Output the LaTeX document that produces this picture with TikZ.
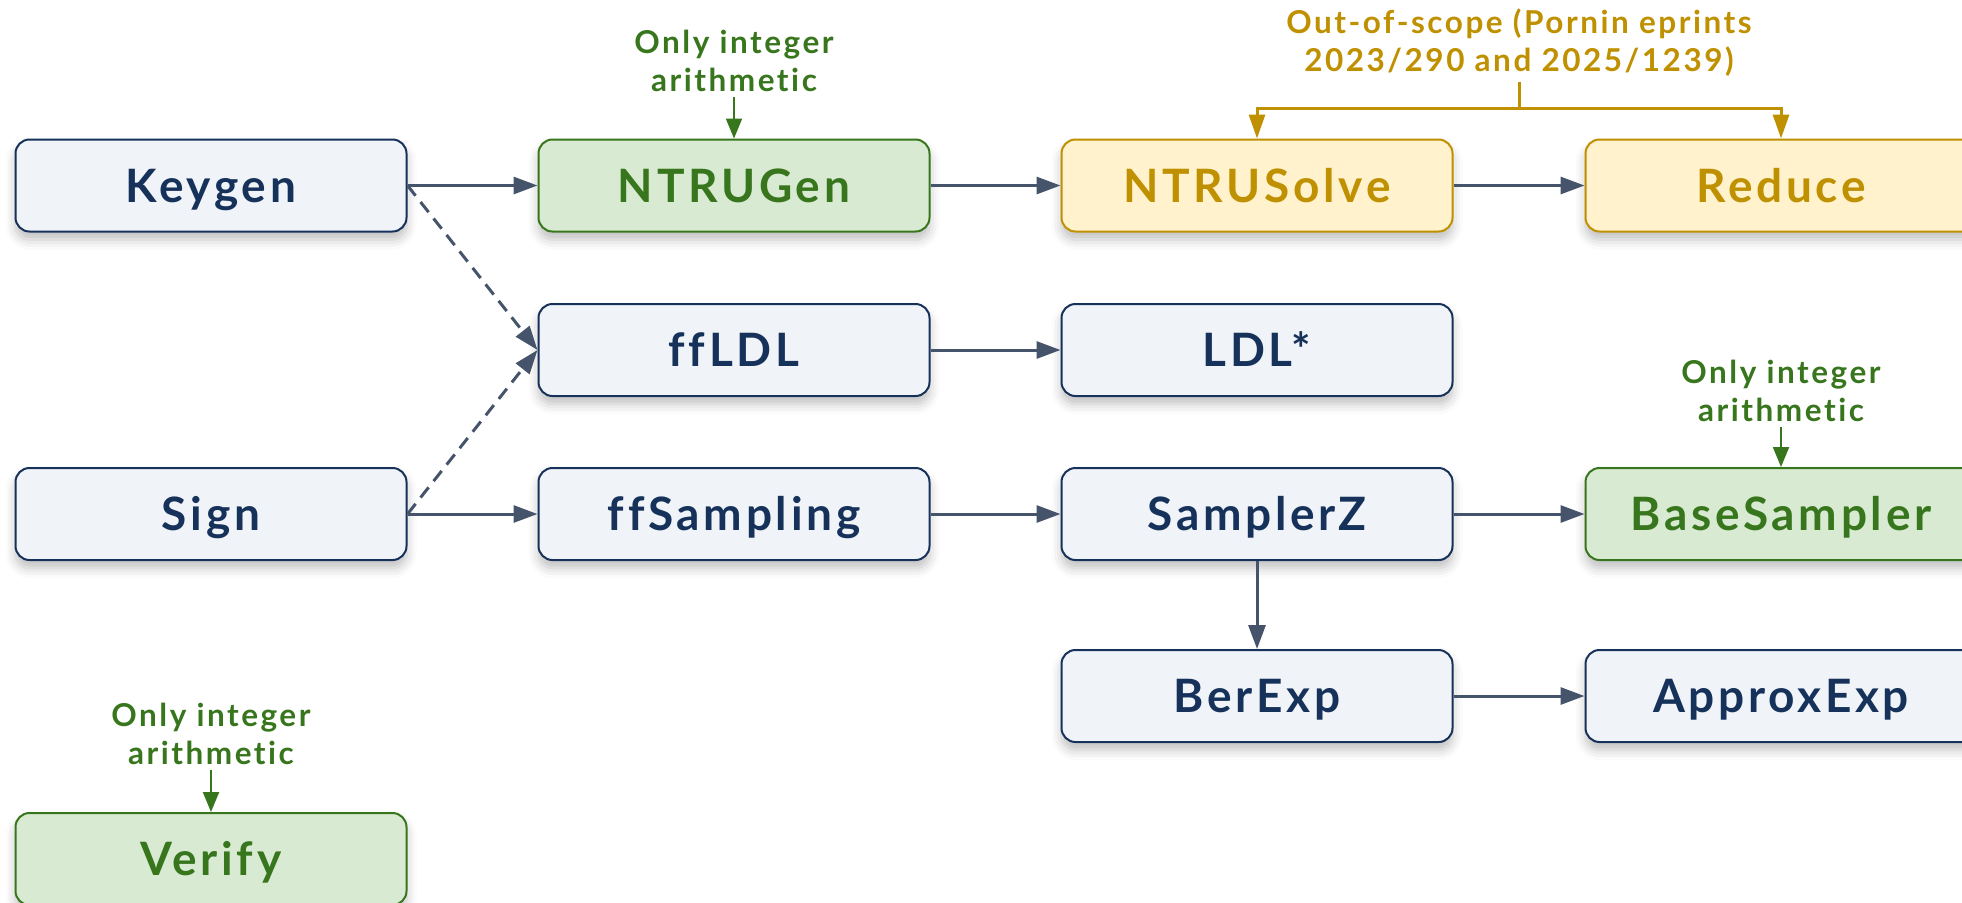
\documentclass[tikz,border=0pt]{standalone}
\usepackage{fontspec}
\setmainfont{Lato}[LetterSpace=8,Ligatures={NoCommon}]
\usetikzlibrary{arrows.meta,shadows.blur}
\definecolor{navy}{HTML}{17325A}
\definecolor{boxfill}{HTML}{F0F4F8}
\definecolor{gborder}{HTML}{38761D}
\definecolor{gfill}{HTML}{D9EAD3}
\definecolor{yborder}{HTML}{BF9000}
\definecolor{yfill}{HTML}{FFF2CC}
\definecolor{arrowc}{HTML}{46546B}
\tikzset{
  box/.style={draw=navy, fill=boxfill, text=navy, line width=1pt, rounded corners=7pt,
    minimum width=195.5pt, minimum height=46pt, inner sep=0pt,
    text height=16.5pt, text depth=0pt,
    font=\fontsize{23}{27}\selectfont\bfseries,
    blur shadow={shadow xshift=0pt, shadow yshift=-4pt, shadow blur radius=5pt, shadow opacity=25}},
  gbox/.style={box, draw=gborder, fill=gfill, text=gborder},
  ybox/.style={box, draw=yborder, fill=yfill, text=yborder},
  note/.style={align=center, font=\fontsize{15.75}{19}\selectfont\bfseries, inner sep=2.5pt},
  conn/.style={draw=arrowc, line width=1.5pt, -{Triangle[length=12pt,width=8.5pt]}},
  dconn/.style={conn, dash pattern=on 6.5pt off 4pt},
  gconn/.style={draw=gborder, line width=1pt, -{Triangle[length=10pt,width=8pt]}},
  yconn/.style={draw=yborder, line width=1.5pt},
  yarrow/.style={yconn, -{Triangle[length=12pt,width=8pt]}}
}
\begin{document}
\begin{tikzpicture}[x=0.5pt,y=-0.5pt]
\path[use as bounding box] (0,0) rectangle (1962,902);
\clip (0,0) rectangle (1962,902);
% boxes
\node[box]  (keygen)  at (211,185.5) {Keygen};
\node[gbox] (ntrugen) at (734,185.5) {NTRUGen};
\node[ybox] (ntrusolve) at (1257,185.5) {NTRUSolve};
\node[ybox] (reduce) at (1781,185.5) {Reduce};
\node[box]  (ffldl)   at (734,350) {ffLDL};
\node[box]  (ldl)     at (1257,350) {LDL*};
\node[box]  (sign)    at (211,514) {Sign};
\node[box]  (ffsamp)  at (734,514) {ffSampling};
\node[box]  (samplerz) at (1257,514) {SamplerZ};
\node[gbox] (basesamp) at (1781,514) {BaseSampler};
\node[box]  (berexp)  at (1257,696) {BerExp};
\node[box]  (approx)  at (1781,696) {ApproxExp};
\node[gbox] (verify)  at (211,859) {Verify};
% notes
\node[note, text=gborder] (n1) at (734,61) {Only integer\\arithmetic};
\node[note, text=gborder] (n2) at (1781,390.5) {Only integer\\arithmetic};
\node[note, text=gborder] (n3) at (211,734) {Only integer\\arithmetic};
\node[note, text=yborder] (oos) at (1519,42.5) {Out-of-scope (Pornin eprints\\2023/290 and 2025/1239)};
\coordinate (j) at (1519,108);
% connectors
\draw[conn] (keygen.east) -- (ntrugen.west);
\draw[conn] (ntrugen.east) -- (ntrusolve.west);
\draw[conn] (ntrusolve.east) -- (reduce.west);
\draw[conn] (ffldl.east) -- (ldl.west);
\draw[conn] (sign.east) -- (ffsamp.west);
\draw[conn] (ffsamp.east) -- (samplerz.west);
\draw[conn] (samplerz.east) -- (basesamp.west);
\draw[conn] (samplerz.south) -- (berexp.north);
\draw[conn] (berexp.east) -- (approx.west);
\draw[dconn] (keygen.east) -- (ffldl.west);
\draw[dconn] (sign.east) -- (ffldl.west);
\draw[gconn] (n1.south) -- (ntrugen.north);
\draw[gconn] (n2.south) -- (basesamp.north);
\draw[gconn] (n3.south) -- (verify.north);
\draw[yconn] (oos.south) -- (j);
\draw[yarrow] (j) -| (ntrusolve.north);
\draw[yarrow] (j) -| (reduce.north);
\end{tikzpicture}
\end{document}
